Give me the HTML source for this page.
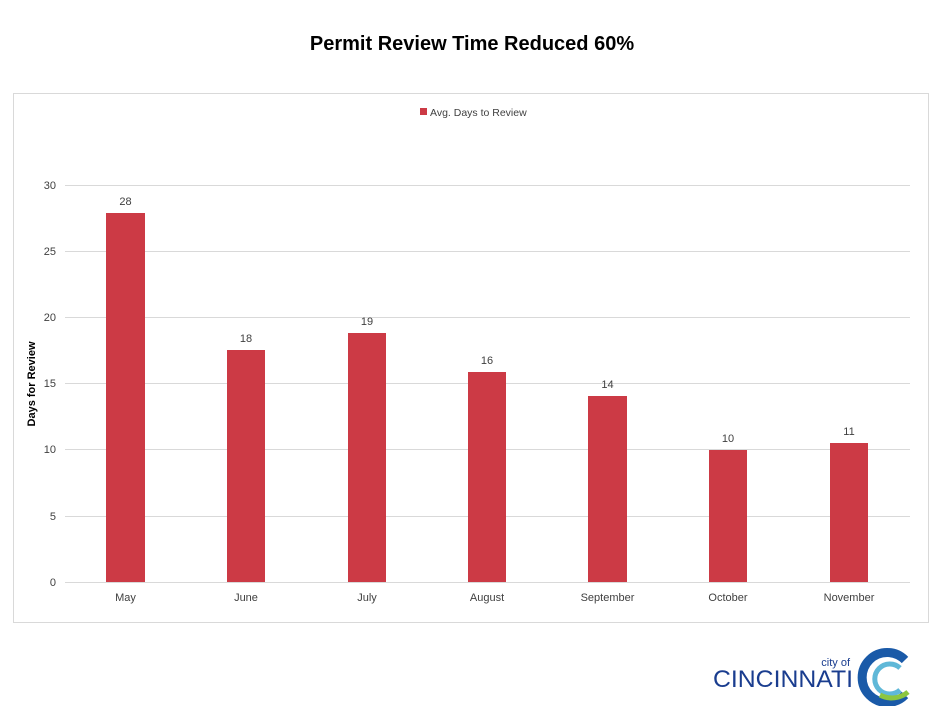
<!DOCTYPE html>
<html><head><meta charset="utf-8"><style>
body{margin:0;background:#fff;}
svg{display:block;font-family:"Liberation Sans",sans-serif;}
</style></head><body>
<svg width="944" height="706" viewBox="0 0 944 706">
<rect width="944" height="706" fill="#fff"/>
<text x="472" y="50" text-anchor="middle" font-size="20" font-weight="bold" fill="#000">Permit Review Time Reduced 60%</text>
<rect x="13.5" y="93.5" width="915" height="529" fill="#fff" stroke="#d9d9d9"/>
<rect x="420" y="108" width="7" height="7" fill="#cc3a45"/>
<text x="430" y="116" font-size="10.5" fill="#404040">Avg. Days to Review</text>
<g stroke="#d9d9d9" stroke-width="1">
<line x1="65" x2="910" y1="185.5" y2="185.5"/>
<line x1="65" x2="910" y1="251.5" y2="251.5"/>
<line x1="65" x2="910" y1="317.5" y2="317.5"/>
<line x1="65" x2="910" y1="383.5" y2="383.5"/>
<line x1="65" x2="910" y1="449.5" y2="449.5"/>
<line x1="65" x2="910" y1="516.5" y2="516.5"/>
<line x1="65" x2="910" y1="582.5" y2="582.5"/>
</g>
<g font-size="11" fill="#404040" text-anchor="end">
<text x="56" y="189">30</text><text x="56" y="255">25</text><text x="56" y="321">20</text>
<text x="56" y="387">15</text><text x="56" y="453">10</text><text x="56" y="520">5</text><text x="56" y="586">0</text>
</g>
<text transform="translate(35,384) rotate(-90)" text-anchor="middle" font-size="11" font-weight="bold" fill="#000">Days for Review</text>
<g fill="#cc3a45">
<rect x="106" y="213" width="39" height="369"/>
<rect x="227" y="350" width="38" height="232"/>
<rect x="348" y="333" width="38" height="249"/>
<rect x="468" y="372" width="38" height="210"/>
<rect x="588" y="396" width="39" height="186"/>
<rect x="709" y="450" width="38" height="132"/>
<rect x="830" y="443" width="38" height="139"/>
</g>
<g font-size="11" fill="#404040" text-anchor="middle">
<text x="125.5" y="205">28</text><text x="246" y="342">18</text><text x="367" y="325">19</text>
<text x="487" y="364">16</text><text x="607.5" y="388">14</text><text x="728" y="442">10</text><text x="849" y="435">11</text>
<text x="125.5" y="601">May</text><text x="246" y="601">June</text><text x="367" y="601">July</text>
<text x="487" y="601">August</text><text x="607.5" y="601">September</text><text x="728" y="601">October</text><text x="849" y="601">November</text>
</g>
<text x="850" y="666" text-anchor="end" font-size="11" fill="#1a3d8f">city of</text>
<text x="713" y="687" font-size="24" fill="#1a3d8f" textLength="140" lengthAdjust="spacingAndGlyphs">CINCINNATI</text>
<path d="M905 660 A25 25 0 1 0 905 695" fill="none" stroke="#1a5aa8" stroke-width="9"/>
<path d="M900 668 A15 15 0 1 0 900 690" fill="none" stroke="#5fb8d8" stroke-width="5"/>
<path d="M880 695 A25 25 0 0 0 908 692" fill="none" stroke="#8cc63f" stroke-width="5"/>
</svg>
</body></html>
